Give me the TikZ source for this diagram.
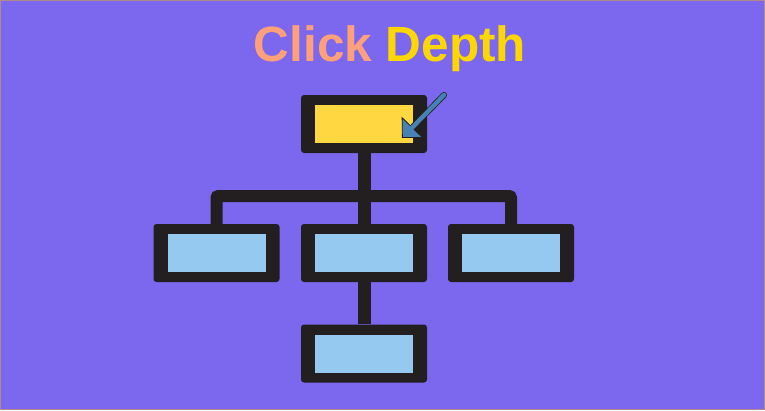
\documentclass[tikz,border=0pt]{standalone}
\usepackage{fontspec}
\setmainfont{Liberation Sans}
\usepackage{tikz}
\usetikzlibrary{arrows.meta}
\definecolor{bgslate}{HTML}{7B68EE}
\definecolor{bgedge}{HTML}{B08A8A}
\definecolor{boxdark}{HTML}{231F20}
\definecolor{pageyellow}{HTML}{FFD740}
\definecolor{pageblue}{HTML}{95C9EF}
\definecolor{ptrblue}{HTML}{4682B4}
\definecolor{clicksalmon}{HTML}{FFA07A}
\definecolor{depthgold}{HTML}{FFD700}

\begin{document}
\begin{tikzpicture}[x=1pt, y=-1pt]
      \tikzstyle{frame}=[rectangle, fill=boxdark, rounded corners=3pt, minimum width=126pt, minimum height=58pt, inner sep=0pt]
      \tikzstyle{panel}=[rectangle, minimum width=98pt, minimum height=38pt, inner sep=0pt]
      \tikzstyle{link}=[draw=boxdark, line width=12pt, rounded corners=2pt]
      %%
  \useasboundingbox (0,0) rectangle (765,410);
  \fill [bgslate] (0,0) rectangle (765,410);
  \draw [bgedge, line width=1pt] (0.5,0.5) rectangle (764.5,409.5);
  \node (title) at (390,61.5) [anchor=base, font=\bfseries\fontsize{49.5}{52}\selectfont] {\textcolor{clicksalmon}{Click} \textcolor{depthgold}{Depth}};
  \node (lvl0_1) at (364,124) [frame] {};
  \node (lvl1_1) at (216.5,253) [frame] {};
  \node (lvl1_2) at (364,253) [frame] {};
  \node (lvl1_3) at (511,253) [frame] {};
  \node (lvl2_1) at (364,353.5) [frame] {};
  \node (pg0_1) at (lvl0_1) [panel, fill=pageyellow] {};
  \node (pg1_1) at (lvl1_1) [panel, fill=pageblue] {};
  \node (pg1_2) at (lvl1_2) [panel, fill=pageblue] {};
  \node (pg1_3) at (lvl1_3) [panel, fill=pageblue] {};
  \node (pg2_1) at (lvl2_1) [panel, fill=pageblue] {};
  \coordinate (bar) at (364,196);
  \draw [link, line width=13pt] (lvl0_1.south) -- (lvl1_2.north);
  \draw [link] (lvl1_1.north) |- (bar) -| (lvl1_3.north);
  \draw [link, line width=13pt] (lvl1_2.south) -- (lvl2_1.north);
  \coordinate (ptr_tail) at (444,95);
  \coordinate (ptr_tip) at (402,138);
  \draw [line width=6pt, boxdark, line cap=round, -{Triangle[length=15pt, width=30pt, line width=0.8pt, fill=ptrblue]}] (ptr_tail) -- (ptr_tip);
  \draw [line width=4.4pt, ptrblue, line cap=round, shorten >=14pt] (ptr_tail) -- (ptr_tip);
%

    \end{tikzpicture}
\end{document}
